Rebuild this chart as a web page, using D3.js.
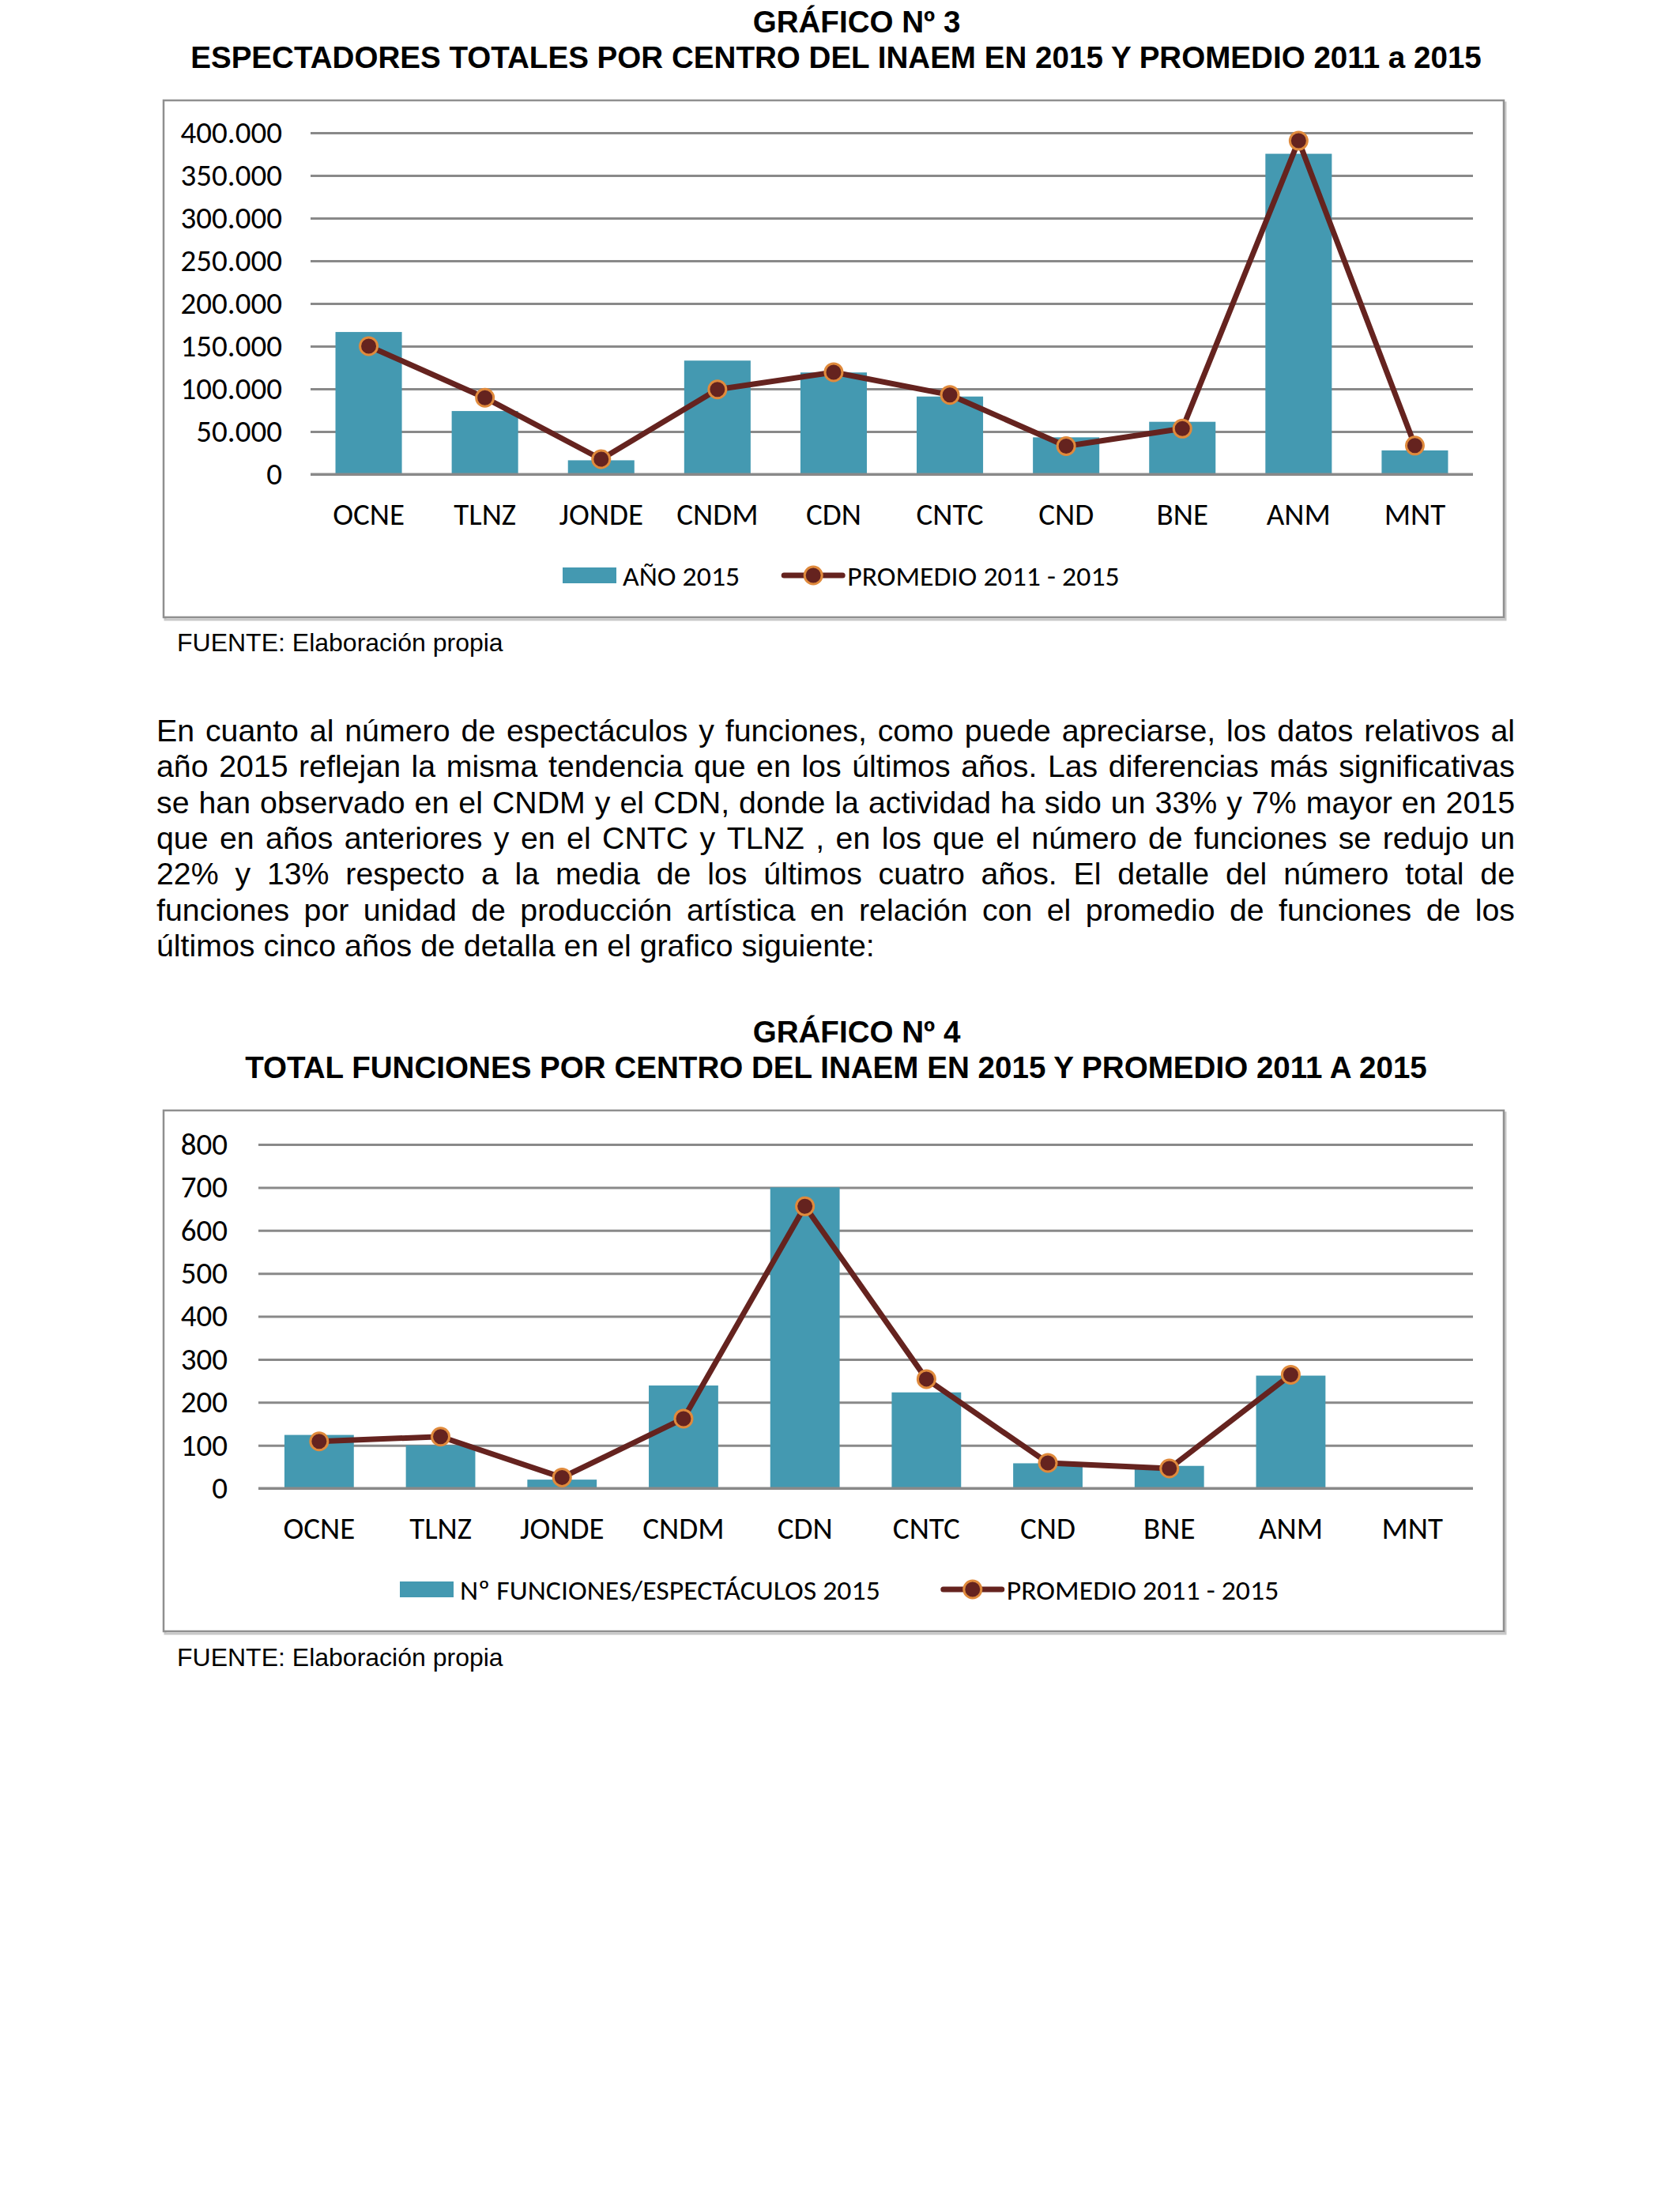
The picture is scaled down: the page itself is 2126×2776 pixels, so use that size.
<!DOCTYPE html>
<html>
<head>
<meta charset="utf-8">
<script src="https://cdn.jsdelivr.net/npm/d3@7"></script>
<style>
  html, body { margin: 0; padding: 0; background: #ffffff; }
  svg { display: block; }
</style>
</head>
<body>
<svg id="page" width="2126" height="2776"></svg>
<script>
// ---------------- DATA ----------------
const categories = ["OCNE", "TLNZ", "JONDE", "CNDM", "CDN", "CNTC", "CND", "BNE", "ANM", "MNT"];

// Gráfico 3: espectadores
const espectadores2015     = [166600, 74000, 16300, 133100, 119200, 91000, 43200, 61400, 375400, 27900];
const espectadoresPromedio = [150000, 89600, 17600, 99300, 119500, 92900, 32900, 53400, 390700, 33500];
const ticksEspectadores    = [0, 50000, 100000, 150000, 200000, 250000, 300000, 350000, 400000];

// Gráfico 4: funciones
const funciones2015     = [124, 100, 20, 239, 700, 223, 58, 52, 262, null];
const funcionesPromedio = [109, 120, 25, 162, 656, 254, 59, 46, 264, null];
const ticksFunciones    = [0, 100, 200, 300, 400, 500, 600, 700, 800];

const legend3 = ["AÑO 2015", "PROMEDIO 2011 - 2015"];
const legend4 = ["Nº FUNCIONES/ESPECTÁCULOS 2015", "PROMEDIO 2011 - 2015"];

const title3 = ["GRÁFICO Nº 3", "ESPECTADORES TOTALES POR CENTRO DEL INAEM EN 2015 Y PROMEDIO 2011 a 2015"];
const title4 = ["GRÁFICO Nº 4", "TOTAL FUNCIONES POR CENTRO DEL INAEM EN 2015 Y PROMEDIO 2011 A 2015"];
const sourceText = "FUENTE: Elaboración propia";

const paragraphLines = [
  "En cuanto al número de espectáculos y funciones, como puede apreciarse, los datos relativos al",
  "año 2015 reflejan la misma tendencia que en los últimos años. Las diferencias más significativas",
  "se han observado en el CNDM y el CDN, donde la actividad ha sido un 33% y 7% mayor en 2015",
  "que en años anteriores y en el CNTC y TLNZ , en los que el número de funciones se redujo un",
  "22% y 13% respecto a la media de los últimos cuatro años. El detalle del número total de",
  "funciones por unidad de producción artística en relación con el promedio de funciones de los",
  "últimos cinco años de detalla en el grafico siguiente:"
];

// ---------------- STYLE ----------------
const BAR = "#4499B1";
const LINE = "#65231F";
const MARK_STROKE = "#E08A3C";
const GRID = "#898989";
const FRAME = "#8F8F8F";
const CHART_FONT = "Calibri, Carlito, Lato, 'Open Sans', sans-serif";
const DOC_FONT = "Arial, 'Liberation Sans', Helvetica, sans-serif";
const AXIS_FS = 39;
const LEGEND_FS = 35.8;

const esLocale = d3.formatLocale({decimal: ",", thousands: ".", grouping: [3], currency: ["", " €"]});
const fmtThousands = esLocale.format(",");

const svg = d3.select("#page");

function drawTitle(lines, y1, y2) {
  svg.append("text").attr("x", 1084).attr("y", y1).attr("text-anchor", "middle")
    .attr("font-family", DOC_FONT).attr("font-weight", "bold").attr("font-size", 38.6)
    .attr("fill", "#000").text(lines[0]);
  svg.append("text").attr("x", 1058).attr("y", y2).attr("text-anchor", "middle")
    .attr("font-family", DOC_FONT).attr("font-weight", "bold").attr("font-size", 38.6)
    .attr("fill", "#000").text(lines[1]);
}

function drawChart(cfg) {
  const g = svg.append("g");
  // frame with soft shadow
  g.append("rect").attr("x", cfg.frame[0] + 2).attr("y", cfg.frame[1] + 3)
    .attr("width", cfg.frame[2] - cfg.frame[0]).attr("height", cfg.frame[3] - cfg.frame[1])
    .attr("fill", "none").attr("stroke", "#c8c8c8").attr("stroke-width", 3);
  g.append("rect").attr("x", cfg.frame[0]).attr("y", cfg.frame[1])
    .attr("width", cfg.frame[2] - cfg.frame[0]).attr("height", cfg.frame[3] - cfg.frame[1])
    .attr("fill", "#fff").attr("stroke", FRAME).attr("stroke-width", 2.5);

  const x = d3.scaleBand().domain(categories).range([cfg.left, cfg.right])
    .paddingInner(0.4286).paddingOuter(0.2143);
  const y = d3.scaleLinear().domain([0, cfg.max]).range([cfg.bottom, cfg.top]);

  // gridlines via axis
  const grid = g.append("g").attr("transform", `translate(${cfg.left},0)`)
    .call(d3.axisLeft(y).tickValues(cfg.ticks).tickSize(-(cfg.right - cfg.left)).tickFormat(""));
  grid.select(".domain").remove();
  grid.selectAll(".tick line").attr("stroke", GRID).attr("stroke-width", 3);

  // y tick labels via axis
  const yAx = g.append("g").attr("transform", `translate(${cfg.labelRight},0)`)
    .call(d3.axisLeft(y).tickValues(cfg.ticks).tickSize(0).tickPadding(0).tickFormat(cfg.fmt));
  yAx.select(".domain").remove();
  yAx.selectAll("text").attr("font-family", CHART_FONT).attr("font-size", AXIS_FS).attr("fill", "#000");

  // bars
  g.append("g").selectAll("rect").data(categories.map((c, i) => ({c, v: cfg.bars[i]})).filter(d => d.v != null))
    .join("rect")
    .attr("x", d => x(d.c)).attr("width", x.bandwidth())
    .attr("y", d => y(d.v)).attr("height", d => y(0) - y(d.v))
    .attr("fill", BAR);

  // baseline on top of bars
  g.append("line").attr("x1", cfg.left).attr("x2", cfg.right)
    .attr("y1", y(0)).attr("y2", y(0)).attr("stroke", GRID).attr("stroke-width", 3);

  // x labels via axis
  const xAx = g.append("g").attr("transform", `translate(0,${cfg.catY})`)
    .call(d3.axisBottom(x).tickSize(0).tickPadding(0));
  xAx.select(".domain").remove();
  xAx.selectAll("text").attr("font-family", CHART_FONT).attr("font-size", AXIS_FS).attr("fill", "#000")
    .attr("dy", "0.35em");

  // line
  const pts = categories.map((c, i) => ({c, v: cfg.line[i]}));
  const lineGen = d3.line().defined(d => d.v != null)
    .x(d => x(d.c) + x.bandwidth() / 2).y(d => y(d.v));
  g.append("path").datum(pts).attr("d", lineGen).attr("fill", "none")
    .attr("stroke", LINE).attr("stroke-width", 7).attr("stroke-linejoin", "round");
  g.append("g").selectAll("circle").data(pts.filter(d => d.v != null)).join("circle")
    .attr("cx", d => x(d.c) + x.bandwidth() / 2).attr("cy", d => y(d.v)).attr("r", 11)
    .attr("fill", LINE).attr("stroke", MARK_STROKE).attr("stroke-width", 3);

  // legend
  const lg = g.append("g");
  const ly = cfg.legendY;
  lg.append("rect").attr("x", cfg.legendX).attr("y", ly - 10).attr("width", 68).attr("height", 20).attr("fill", BAR);
  const t1 = lg.append("text").attr("x", cfg.legendX + 76).attr("y", ly).attr("dy", "0.35em")
    .attr("font-family", CHART_FONT).attr("font-size", LEGEND_FS).attr("fill", "#000").text(cfg.legend[0]);
  const w1 = t1.node().getComputedTextLength();
  const lx = cfg.legendX + 76 + w1 + cfg.legendGap;
  lg.append("line").attr("x1", lx).attr("x2", lx + 74).attr("y1", ly).attr("y2", ly)
    .attr("stroke", LINE).attr("stroke-width", 7).attr("stroke-linecap", "round");
  lg.append("circle").attr("cx", lx + 37).attr("cy", ly).attr("r", 11)
    .attr("fill", LINE).attr("stroke", MARK_STROKE).attr("stroke-width", 3);
  lg.append("text").attr("x", lx + 80).attr("y", ly).attr("dy", "0.35em")
    .attr("font-family", CHART_FONT).attr("font-size", LEGEND_FS).attr("fill", "#000").text(cfg.legend[1]);

  // source
  svg.append("text").attr("x", 224).attr("y", cfg.sourceY)
    .attr("font-family", DOC_FONT).attr("font-size", 32).attr("fill", "#000").text(sourceText);
}

// ---------- Chart 3 ----------
drawTitle(title3, 41, 86);
drawChart({
  frame: [207, 127, 1903, 781],
  left: 393, right: 1864, top: 168, bottom: 600, max: 400000,
  ticks: ticksEspectadores, fmt: d => fmtThousands(d), labelRight: 357,
  bars: espectadores2015, line: espectadoresPromedio,
  catY: 650, legendY: 728, legendX: 712, legendGap: 56, legend: legend3,
  sourceY: 824
});

// ---------- Paragraph ----------
(function () {
  const left = 198, right = 1917, base = 938, pitch = 45.3, fs = 39.3;
  paragraphLines.forEach((line, i) => {
    const yb = base + i * pitch;
    const words = line.split(" ");
    const last = i === paragraphLines.length - 1;
    if (last) {
      svg.append("text").attr("x", left).attr("y", yb).attr("font-family", DOC_FONT)
        .attr("font-size", fs).attr("fill", "#000").text(line);
      return;
    }
    const nodes = words.map(w => svg.append("text").attr("y", yb).attr("font-family", DOC_FONT)
      .attr("font-size", fs).attr("fill", "#000").text(w));
    const widths = nodes.map(n => n.node().getComputedTextLength());
    const total = d3.sum(widths);
    const gap = (right - left - total) / (words.length - 1);
    let cx = left;
    nodes.forEach((n, k) => { n.attr("x", cx); cx += widths[k] + gap; });
  });
})();

// ---------- Chart 4 ----------
drawTitle(title4, 1319, 1364);
drawChart({
  frame: [207, 1405, 1903, 2064],
  left: 327, right: 1864, top: 1448, bottom: 1883, max: 800,
  ticks: ticksFunciones, fmt: d => String(d), labelRight: 288,
  bars: funciones2015, line: funcionesPromedio,
  catY: 1933, legendY: 2011, legendX: 506, legendGap: 80, legend: legend4,
  sourceY: 2108
});
</script>
</body>
</html>
